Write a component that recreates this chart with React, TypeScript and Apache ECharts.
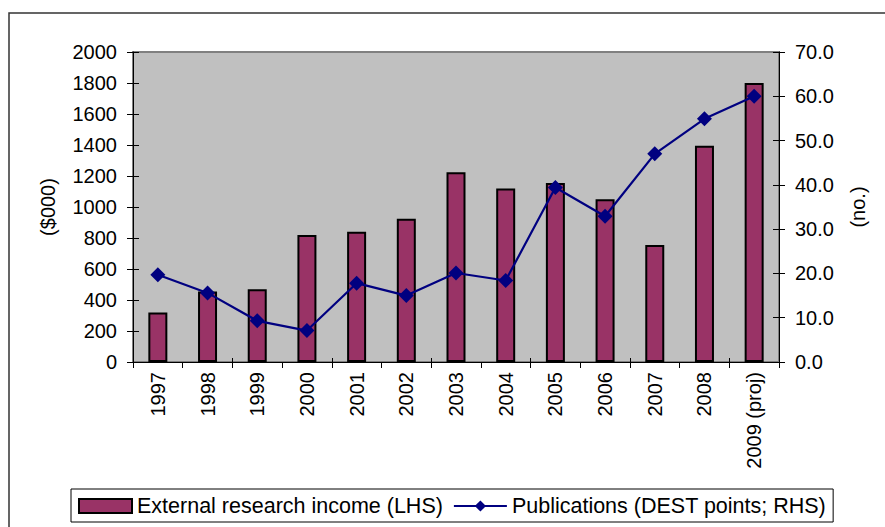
import React, { useEffect, useRef } from "react";
import * as echarts from "echarts";

const categories = ["1997", "1998", "1999", "2000", "2001", "2002", "2003", "2004", "2005", "2006", "2007", "2008", "2009 (proj)"];
const income = [320, 455, 470, 820, 840, 925, 1225, 1120, 1155, 1050, 755, 1395, 1800];
const publications = [19.7, 15.6, 9.3, 7.1, 17.8, 15.0, 20.1, 18.4, 39.4, 32.9, 47.0, 54.9, 60.0];

const FONT = "'Liberation Sans', Arial, sans-serif";

export default function App() {
  const ref = useRef<HTMLDivElement>(null);
  useEffect(() => {
    if (!ref.current) return;
    const chart = echarts.init(ref.current, undefined, { renderer: "svg" });
    const tickStyle = { color: "#000", width: 1 };
    chart.setOption({
      animation: false,
      backgroundColor: "#fff",
      textStyle: { fontFamily: FONT, color: "#000" },
      graphic: [
        {
          type: "rect",
          shape: { x: 9, y: 13, width: 1000, height: 700 },
          style: { fill: "none", stroke: "#333", lineWidth: 1.5 },
          z: -1,
        },
      ],
      grid: {
        left: 133,
        right: 106,
        top: 52,
        height: 310,
        show: true,
        backgroundColor: "#C0C0C0",
        borderColor: "#808080",
        borderWidth: 2,
      },
      legend: {
        left: 71,
        top: 489,
        padding: [6, 7, 5, 7],
        borderColor: "#000",
        borderWidth: 1,
        itemWidth: 53,
        itemHeight: 14,
        itemGap: 10,
        textStyle: { fontSize: 21.5, fontFamily: FONT, color: "#000" },
        data: [
          { name: "External research income (LHS)", icon: "rect" },
          { name: "Publications (DEST points; RHS)" },
        ],
      },
      xAxis: [
        {
          type: "category",
          data: categories,
          position: "bottom",
          axisLine: { show: true, lineStyle: { color: "#000", width: 1 } },
          axisTick: { show: true, length: 6, lineStyle: tickStyle },
          axisLabel: { rotate: 90, margin: 10, fontSize: 20, fontFamily: FONT, color: "#000", interval: 0 },
          splitLine: { show: false },
        },
        {
          type: "category",
          data: categories,
          position: "bottom",
          axisLine: { show: false },
          axisTick: { show: true, inside: true, length: 4, lineStyle: tickStyle },
          axisLabel: { show: false },
          splitLine: { show: false },
        },
      ],
      yAxis: [
        {
          type: "value",
          position: "left",
          min: 0,
          max: 2000,
          interval: 200,
          name: "($000)",
          nameLocation: "middle",
          nameGap: 75,
          nameRotate: 90,
          nameTextStyle: { fontSize: 20, fontFamily: FONT, color: "#000" },
          axisLine: { show: true, lineStyle: { color: "#000", width: 1 } },
          axisTick: { show: true, length: 6, lineStyle: tickStyle },
          axisLabel: { margin: 16, fontSize: 20, fontFamily: FONT, color: "#000", formatter: (v: number) => String(v) },
          splitLine: { show: false },
        },
        {
          type: "value",
          position: "right",
          min: 0,
          max: 70,
          interval: 10,
          name: "(no.)",
          nameLocation: "middle",
          nameGap: 69,
          nameRotate: 90,
          nameTextStyle: { fontSize: 20, fontFamily: FONT, color: "#000" },
          axisLine: { show: true, lineStyle: { color: "#000", width: 1 } },
          axisTick: { show: true, length: 6, lineStyle: tickStyle },
          axisLabel: { margin: 16, fontSize: 20, fontFamily: FONT, color: "#000", formatter: (v: number) => v.toFixed(1) },
          splitLine: { show: false },
        },
        {
          type: "value",
          position: "left",
          min: 0,
          max: 2000,
          interval: 200,
          axisLine: { show: false },
          axisTick: { show: true, inside: true, length: 6, lineStyle: tickStyle },
          axisLabel: { show: false },
          splitLine: { show: false },
        },
        {
          type: "value",
          position: "right",
          min: 0,
          max: 70,
          interval: 10,
          axisLine: { show: false },
          axisTick: { show: true, inside: true, length: 6, lineStyle: tickStyle },
          axisLabel: { show: false },
          splitLine: { show: false },
        },
      ],
      series: [
        {
          name: "External research income (LHS)",
          type: "bar",
          xAxisIndex: 0,
          yAxisIndex: 0,
          data: income,
          barWidth: 19,
          itemStyle: { color: "#993366", borderColor: "#000", borderWidth: 2 },
        },
        {
          name: "Publications (DEST points; RHS)",
          type: "line",
          xAxisIndex: 0,
          yAxisIndex: 1,
          data: publications,
          symbol: "diamond",
          symbolSize: 15,
          lineStyle: { color: "#000080", width: 2.2 },
          itemStyle: { color: "#000080" },
          z: 5,
        },
      ],
    });
    return () => chart.dispose();
  }, []);
  return <div ref={ref} style={{ position: "fixed", left: 0, top: 0, width: 885, height: 527 }} />;
}
